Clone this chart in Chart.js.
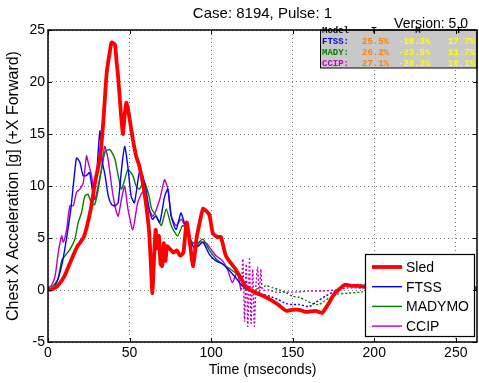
<!DOCTYPE html>
<html><head><meta charset="utf-8">
<script src="https://cdn.jsdelivr.net/npm/chart.js@4/dist/chart.umd.min.js"></script>
<style>html,body{margin:0;padding:0;background:#fff;}canvas{display:block;}</style>
</head><body>
<canvas id="c" width="479" height="383"></canvas>
<script>
const chartTitle = "Case: 8194, Pulse: 1";
const versionLabel = "Version: 5.0";
const xTitle = "Time (mseconds)";
const yTitle = "Chest X Acceleration [g] (+X Forward)";
const xTicks = [0, 50, 100, 150, 200, 250];
const yTicks = [-5, 0, 5, 10, 15, 20, 25];
const seriesNames = ["Sled", "FTSS", "MADYMO", "CCIP"];

const sledT = [0,3,6,10,14,18,22,26,29,32,34,36,38,39,41,42,43,45,46,47,48,49,50,52,54,56,58,60,62,63,64,65,66,67,68,69,70,71,72,73,75,77,79,81,83,85,87,89,91,93,95,97,99,101,104,106,109,112,115,118,121,124,127,131,136,141,146,150,154,158,164,168,172,175,178,182,186,190,195,200,210,220,230,240,250,263];
const sledV = [0,0.1,0.4,1.3,2.8,4.2,5.1,7.6,10.5,12.8,16.4,20.9,23.0,23.8,23.6,22.0,20.5,16.4,15.0,16.8,18.0,17.4,16.5,14.5,12.9,11.9,10.4,8.4,5.6,2.7,-0.3,3.0,5.8,4.0,5.2,2.5,2.3,4.5,2.8,4.2,3.9,3.6,3.8,3.3,3.6,6.5,4.5,2.3,4.9,6.5,7.8,7.6,7.2,5.5,5.1,5.1,3.3,2.6,2.0,1.2,0.4,0.0,-0.25,-0.5,-0.9,-1.4,-2.0,-1.9,-1.9,-2.1,-2.0,-2.2,-1.3,-0.5,0.0,0.5,0.4,0.4,0.3,0.3,0.1,0,0,0,-0.1,0.1];

const ftssT = [0,3,6,9,12,14,16,17.5,19.5,21.5,23.5,25.5,27.5,29.5,31.8,33,35,37,39,41,43,45,47,49,51,53,56,58,60,62,64,66,68.5,71.5,73.5,75.5,78.5,81.5,83.5,86,89,92,95,99,103,107,111,115,119,123,127,131,136,141,146,150,154,160,164,170,176,182,190,200,215,230,250,263];
const ftssV = [0,0.1,1.0,2.8,5.6,7.8,10.8,12.7,12.3,11.0,11.0,11.3,9.4,10.6,15.3,12.6,11.0,9.0,8.2,8.1,8.4,11.5,13.8,11.8,9.0,8.4,11.3,11.0,9.7,7.8,6.8,7.1,6.5,9.0,9.7,7.1,5.8,7.4,6.5,5.5,4.2,4.2,4.6,3.4,2.8,2.5,1.9,1.2,0.4,0.0,-0.2,-0.4,-0.6,-0.9,-1.3,-1.4,-1.4,-1.6,-1.2,-0.6,-0.1,0.4,0.5,0.4,0.3,0.3,0.3,0.3];

const madyT = [0,2,6,8.5,10.5,13.5,16.5,18.5,20.5,22.5,24.5,26.5,28.5,30.5,32.5,35,38,41,43,45,47,49,52,54,56,59,62,63.5,66.5,69.5,72.5,75.5,79.5,82.5,85,87,91,95,99,103,107,112,116,119.5,125,130,134,138,142,146,150,154,158,162,166,172,178,184,192,200,215,230,250,263];
const madyV = [0,0.2,1.0,2.9,3.3,3.9,4.9,6.5,7.4,9.0,9.2,8.4,8.2,9.4,11.3,13.3,13.5,12.6,11.0,9.7,10.6,11.6,11.0,10.0,9.7,10.4,9.0,7.8,7.1,6.2,7.8,6.2,5.2,6.2,5.8,4.8,4.4,4.9,3.8,3.0,2.5,2.0,1.5,0.7,0.0,0.2,0.4,0.2,0.0,-0.3,-0.6,-0.7,-1.0,-1.3,-1.4,-0.8,-0.4,-0.3,-0.2,-0.1,0,0,0.1,0.2];

const ccipT = [0,2,4.3,6.3,8.4,9.4,11.4,13.4,15.5,17.5,19.6,21.6,23.6,24.6,26.7,28.7,30.7,32.8,34.8,36.8,39,41,43,45,47,49,52,55,58,61,64.4,68.5,71.5,73.5,75.6,78.6,81.7,85.8,90,93,97,100,103,107,110,113,116,118.4,119.5,120.5,121.5,122.5,123.5,124.5,125.5,126.5,127.5,128.5,129.5,130.5,131.5,135,140,146,152,160,168,176,184,192,200,215,230,250,263];
const ccipV = [0.2,0.4,1.3,3.6,5.2,4.6,5.8,8.1,8.1,9.4,9.7,10.3,12.9,12.3,11.0,8.7,10.0,11.6,13.8,12.6,10.0,8.1,7.1,8.7,10.0,7.8,5.8,8.4,9.4,8.1,7.1,8.7,10.6,9.7,7.1,6.2,6.8,5.5,3.9,4.6,4.5,3.9,3.3,2.8,2.0,0.7,1.7,0.0,3.0,-3.0,2.5,-3.5,3.0,-3.2,2.0,-3.5,0.5,2.2,-0.3,2.0,0.0,0.0,-0.2,-0.2,-0.2,-0.1,-0.1,0.0,0.2,0.2,0.3,0.3,0.3,0.3,0.3];

const statHeader = ["Model", "T", "M", "F"];
const statModels = ["FTSS:", "MADY:", "CCIP:"];
const statT = ["25.5%", "26.2%", "27.1%"];
const statM = ["-18.3%", "-23.5%", "-20.3%"];
const statF = ["17.7%", "11.7%", "18.1%"];

const colors = ["#ff0000", "#0000ff", "#008000", "#bf00bf"];
const widths = [3.8, 1.4, 1.4, 1.4];
const dashStart = [null, 121, 119.5, 118];
const FONT = "'Liberation Sans', Arial, sans-serif";

function pts(t, v) { return t.map((x, i) => ({x: x, y: v[i]})); }
const allData = [pts(sledT, sledV), pts(ftssT, ftssV), pts(madyT, madyV), pts(ccipT, ccipV)];

const datasets = allData.map((d, i) => ({
  label: seriesNames[i],
  data: d,
  borderColor: colors[i],
  backgroundColor: colors[i],
  borderWidth: widths[i],
  pointRadius: 0,
  tension: 0.2,
  fill: false,
  segment: {
    borderDash: ctx => (dashStart[i] !== null && ctx.p0.parsed.x >= dashStart[i]) ? [2, 2] : undefined
  }
}));

const decor = {
  id: 'decor',
  afterDraw(chart) {
    const ctx = chart.ctx;
    const a = chart.chartArea;
    const xs = chart.scales.x, ys = chart.scales.y;
    ctx.save();
    // stats box
    ctx.fillStyle = '#c8c8c8';
    ctx.fillRect(320, a.top, a.right - 320, 38);
    ctx.strokeStyle = '#000';
    ctx.lineWidth = 1;
    ctx.strokeRect(320.5, a.top, a.right - 320.5, 38);
    ctx.font = "bold 9px 'Liberation Mono', 'Courier New', monospace";
    ctx.textBaseline = 'middle';
    ctx.textAlign = 'left';
    ctx.fillStyle = '#000';
    ctx.fillText(statHeader[0], 322, a.top + 1);
    ctx.textAlign = 'center';
    ctx.fillText(statHeader[1], 374, a.top + 1);
    ctx.fillText(statHeader[2], 418, a.top + 1);
    ctx.fillText(statHeader[3], 460, a.top + 1);
    ctx.textAlign = 'left';
    const nameCols = [colors[1], colors[2], colors[3]];
    for (let i = 0; i < 3; i++) {
      const y = a.top + 12 + i * 11;
      ctx.fillStyle = nameCols[i];
      ctx.fillText(statModels[i], 322, y);
      ctx.fillStyle = '#ff8000';
      ctx.fillText(statT[i], 362, y);
      ctx.fillStyle = '#ffff00';
      ctx.fillText(statM[i], 398, y);
      ctx.fillText(statF[i], 448, y);
    }
    // legend
    const lx = 365, ly = 254, lw = 109, lh = 82;
    ctx.fillStyle = '#fff';
    ctx.fillRect(lx, ly, lw, lh);
    ctx.strokeStyle = '#000';
    ctx.lineWidth = 1.2;
    ctx.strokeRect(lx + 0.5, ly + 0.5, lw, lh);
    ctx.font = '14px ' + FONT;
    ctx.textBaseline = 'middle';
    for (let i = 0; i < 4; i++) {
      const y = ly + 13 + i * 19.7;
      ctx.beginPath();
      ctx.strokeStyle = colors[i];
      ctx.lineWidth = widths[i];
      ctx.moveTo(372, y);
      ctx.lineTo(402, y);
      ctx.stroke();
      ctx.fillStyle = '#000';
      ctx.fillText(seriesNames[i], 406, y + 1);
    }
    // frame
    ctx.strokeStyle = '#000';
    ctx.lineWidth = 1.5;
    ctx.strokeRect(a.left, a.top, a.right - a.left, a.bottom - a.top);
    // inward ticks
    ctx.lineWidth = 1;
    ctx.beginPath();
    xTicks.forEach(v => {
      const px = Math.round(xs.getPixelForValue(v)) + 0.5;
      ctx.moveTo(px, a.bottom); ctx.lineTo(px, a.bottom - 4);
      ctx.moveTo(px, a.top); ctx.lineTo(px, a.top + 4);
    });
    yTicks.forEach(v => {
      const py = Math.round(ys.getPixelForValue(v)) + 0.5;
      ctx.moveTo(a.left, py); ctx.lineTo(a.left + 4, py);
      ctx.moveTo(a.right, py); ctx.lineTo(a.right - 4, py);
    });
    ctx.stroke();
    // texts
    ctx.fillStyle = '#000';
    ctx.textBaseline = 'alphabetic';
    ctx.textAlign = 'center';
    ctx.font = '15px ' + FONT;
    ctx.fillText(chartTitle, (a.left + a.right) / 2, 17.5);
    ctx.font = '14px ' + FONT;
    ctx.textAlign = 'right';
    ctx.fillText(versionLabel, 468, 28);
    ctx.textAlign = 'center';
    ctx.fillText(xTitle, (a.left + a.right) / 2, 374);
    ctx.font = '16px ' + FONT;
    ctx.translate(18, (a.top + a.bottom) / 2);
    ctx.rotate(-Math.PI / 2);
    ctx.fillText(yTitle, 0, 0);
    ctx.restore();
  }
};

new Chart(document.getElementById('c'), {
  type: 'line',
  data: { datasets: datasets },
  options: {
    responsive: false,
    animation: false,
    layout: { padding: { top: 30, right: 2, left: 0, bottom: 0 } },
    plugins: { legend: { display: false }, title: { display: false }, tooltip: { enabled: false } },
    scales: {
      x: {
        type: 'linear', min: 0, max: 263,
        afterBuildTicks: s => { s.ticks = xTicks.map(v => ({value: v})); },
        afterFit: s => { s.height = 41; },
        grid: { color: '#777', lineWidth: 1, drawTicks: false },
        border: { display: false, dash: [1, 3] },
        ticks: { color: '#000', font: { size: 14, family: FONT }, padding: 3, maxRotation: 0 }
      },
      y: {
        type: 'linear', min: -5, max: 25,
        afterBuildTicks: s => { s.ticks = yTicks.map(v => ({value: v})); },
        afterFit: s => { s.width = 48; },
        grid: { color: '#777', lineWidth: 1, drawTicks: false },
        border: { display: false, dash: [1, 3] },
        ticks: { color: '#000', font: { size: 14, family: FONT }, padding: 3 }
      }
    }
  },
  plugins: [decor]
});
</script>
</body></html>
